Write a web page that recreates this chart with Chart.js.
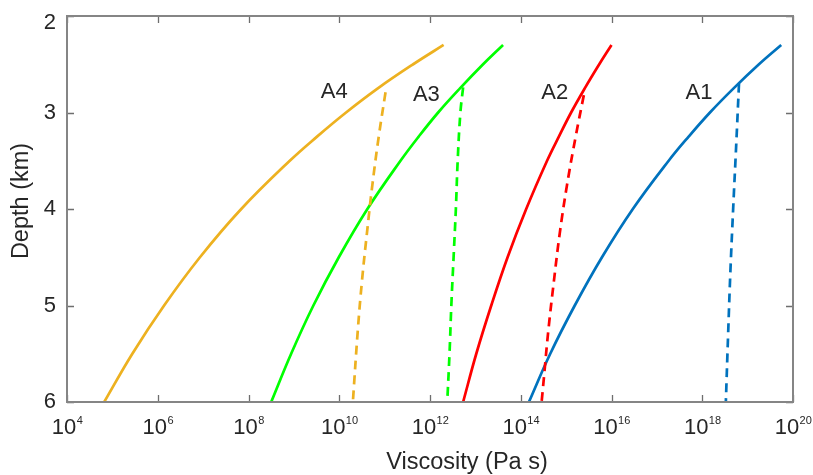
<!DOCTYPE html>
<html>
<head>
<meta charset="utf-8">
<title>Viscosity vs depth</title>
<script src="https://cdn.jsdelivr.net/npm/chart.js@4/dist/chart.umd.min.js"></script>
<style>
  html, body { margin: 0; padding: 0; background: #fff; }
  #wrap { width: 813px; height: 475px; position: relative; }
</style>
</head>
<body>
<div id="wrap"><canvas id="chart"></canvas></div>
<script>
// depth in km, viscosity as log10(Pa s)
var depthSteps = [2.3, 2.5, 2.75, 3.0, 3.25, 3.5, 4.0, 4.5, 5.0, 5.5, 6.0];

var a1LogV = [19.74, 19.25, 18.69, 18.17, 17.70, 17.26, 16.47, 15.79, 15.19, 14.65, 14.18];
var a2LogV = [16.00, 15.73, 15.41, 15.11, 14.84, 14.58, 14.12, 13.71, 13.35, 13.02, 12.73];
var a3LogV = [13.61, 13.17, 12.66, 12.18, 11.75, 11.35, 10.62, 9.99, 9.43, 8.94, 8.50];
var a4LogV = [12.30, 11.63, 10.85, 10.15, 9.51, 8.91, 7.84, 6.93, 6.14, 5.44, 4.82];

var a1DashDepth = [2.70, 3.32, 4.01, 4.65, 5.30, 6.0];
var a1DashLogV  = [18.81, 18.75, 18.68, 18.62, 18.57, 18.52];
var a2DashDepth = [2.82, 3.25, 3.75, 4.25, 4.75, 5.25, 5.75, 6.0];
var a2DashLogV  = [15.39, 15.21, 15.02, 14.86, 14.73, 14.61, 14.51, 14.46];
var a3DashDepth = [2.74, 3.0, 3.5, 4.0, 4.5, 5.0, 5.5, 6.0];
var a3DashLogV  = [12.73, 12.67, 12.61, 12.57, 12.52, 12.47, 12.43, 12.38];
var a4DashDepth = [2.79, 3.25, 3.75, 4.25, 4.75, 5.25, 6.0];
var a4DashLogV  = [11.02, 10.87, 10.73, 10.61, 10.50, 10.41, 10.30];

// curve labels
var labelText  = ["A1", "A2", "A3", "A4"];
var labelLogV  = [17.93, 14.75, 11.92, 9.89];
var labelDepth = [2.80, 2.80, 2.82, 2.79];

// axis ticks
var xTickExp = [4, 6, 8, 10, 12, 14, 16, 18, 20];
var yTicks = [2, 3, 4, 5, 6];

var blue = "#0072BD", red = "#FF0000", green = "#00FF00", orange = "#EDB120";
var FONT = "'Liberation Sans', Arial, Helvetica, sans-serif";
var textColor = "#262626";

function toPoints(logV, depth) {
    return logV.map(function (v, i) {
        return { x: Math.pow(10, v), y: depth[i] };
    });
}

function line(logV, depth, color, dashed) {
    return {
        data: toPoints(logV, depth),
        borderColor: color,
        backgroundColor: color,
        borderWidth: 2.7,
        borderDash: dashed ? [9, 6] : [],
        showLine: true,
        pointRadius: 0,
        tension: 0.4,
        fill: false
    };
}

var datasets = [
    line(a4LogV, depthSteps, orange, false),
    line(a4DashLogV, a4DashDepth, orange, true),
    line(a3LogV, depthSteps, green, false),
    line(a3DashLogV, a3DashDepth, green, true),
    line(a2LogV, depthSteps, red, false),
    line(a2DashLogV, a2DashDepth, red, true),
    line(a1LogV, depthSteps, blue, false),
    line(a1DashLogV, a1DashDepth, blue, true)
];

// box, inward ticks, tick labels, titles and curve labels
var axesPlugin = {
    id: "matlabAxes",
    afterDraw: function (chart) {
        var c = chart.ctx, a = chart.chartArea;
        var xs = chart.scales.x, ys = chart.scales.y;
        var tl = 7;
        c.save();

        // inward ticks
        c.strokeStyle = "#6e6e6e";
        c.lineWidth = 1.3;
        c.beginPath();
        xTickExp.forEach(function (e) {
            var px = Math.round(xs.getPixelForValue(Math.pow(10, e))) + 0.5;
            c.moveTo(px, a.top); c.lineTo(px, a.top + tl);
            c.moveTo(px, a.bottom); c.lineTo(px, a.bottom - tl);
        });
        yTicks.forEach(function (t) {
            var py = Math.round(ys.getPixelForValue(t)) + 0.5;
            c.moveTo(a.left, py); c.lineTo(a.left + tl, py);
            c.moveTo(a.right, py); c.lineTo(a.right - tl, py);
        });
        c.stroke();

        // frame
        c.strokeStyle = "#858585";
        c.lineWidth = 2;
        c.strokeRect(a.left, a.top, a.right - a.left, a.bottom - a.top);

        c.fillStyle = textColor;

        // x tick labels, 10 with superscript exponent
        xTickExp.forEach(function (e) {
            var px = xs.getPixelForValue(Math.pow(10, e));
            c.font = "22px " + FONT;
            var wBase = c.measureText("10").width;
            c.font = "11px " + FONT;
            var wExp = c.measureText(String(e)).width;
            var x0 = px - (wBase + wExp) / 2;
            c.textAlign = "left";
            c.textBaseline = "alphabetic";
            c.font = "22px " + FONT;
            c.fillText("10", x0, 434);
            c.font = "11px " + FONT;
            c.fillText(String(e), x0 + wBase + 0.5, 423.5);
        });

        // y tick labels
        c.font = "22px " + FONT;
        c.textAlign = "right";
        c.textBaseline = "middle";
        yTicks.forEach(function (t) {
            var py = Math.max(ys.getPixelForValue(t), a.top + 7);
            c.fillText(String(t), a.left - 11, py);
        });

        // axis titles
        c.font = "23.5px " + FONT;
        c.textAlign = "center";
        c.textBaseline = "alphabetic";
        c.fillText("Viscosity (Pa s)", 467, 469);

        c.save();
        c.translate(28, 201);
        c.rotate(-Math.PI / 2);
        c.fillText("Depth (km)", 0, 0);
        c.restore();

        // curve labels
        c.font = "22px " + FONT;
        c.textAlign = "center";
        c.textBaseline = "middle";
        labelText.forEach(function (s, i) {
            c.fillText(s, xs.getPixelForValue(Math.pow(10, labelLogV[i])),
                ys.getPixelForValue(labelDepth[i]));
        });

        c.restore();
    }
};

new Chart(document.getElementById("chart").getContext("2d"), {
    type: "scatter",
    data: { datasets: datasets },
    options: {
        responsive: true,
        maintainAspectRatio: false,
        animation: false,
        layout: { padding: { left: 67, right: 20, top: 16, bottom: 73 } },
        plugins: {
            legend: { display: false },
            tooltip: { enabled: false }
        },
        scales: {
            x: {
                type: "logarithmic",
                min: 1e4,
                max: 1e20,
                display: false
            },
            y: {
                type: "linear",
                min: 2,
                max: 6,
                reverse: true,
                display: false
            }
        }
    },
    plugins: [axesPlugin]
});
</script>
</body>
</html>
